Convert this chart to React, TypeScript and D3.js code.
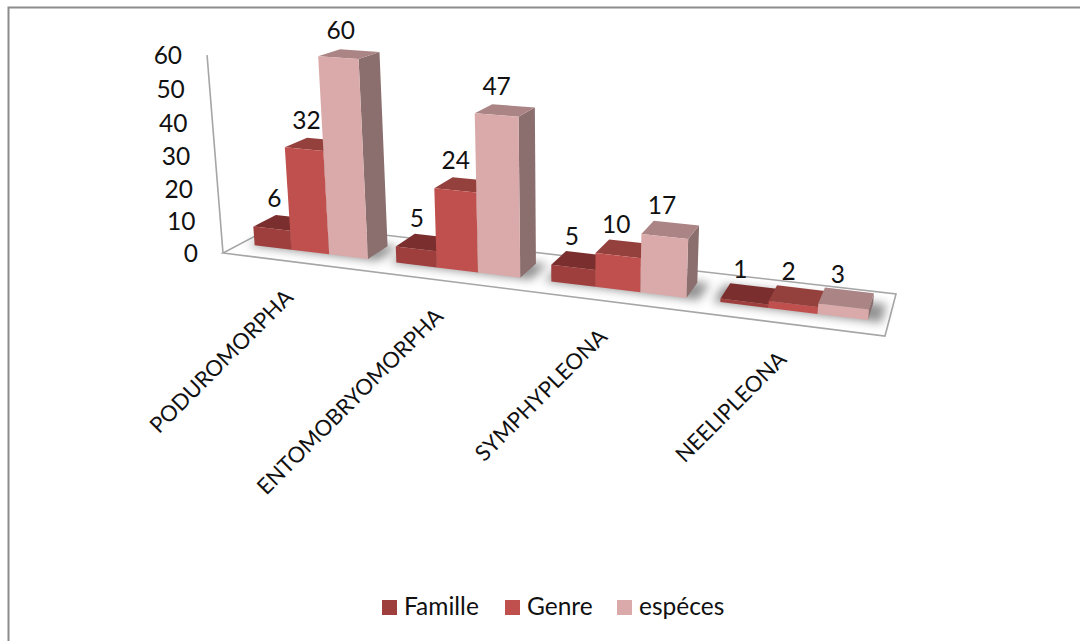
import React from "react";
import * as d3 from "d3";

const categories = ["PODUROMORPHA", "ENTOMOBRYOMORPHA", "SYMPHYPLEONA", "NEELIPLEONA"];
const seriesNames = ["Famille", "Genre", "espéces"];
const famille = [6, 5, 5, 1];
const genre = [32, 24, 10, 2];
const especes = [60, 47, 17, 3];
const yTicks = [0, 10, 20, 30, 40, 50, 60];

const frontColors = ["#9F3F3D", "#C0504D", "#D9AAA9"];
const topColors = ["#7A2E2D", "#94403D", "#AB8585"];
const sideColors = ["#6E2A29", "#853735", "#8B6E6E"];
const legendX = [382, 505, 617];

const FONT = "Lato, 'Open Sans', sans-serif";
const TEXT_SIZE = 24.5;
const CATEGORY_SIZE = 22;

type Pt = [number, number];

// Homography from the unit square to the floor quad, extended with an up column.
function makeProjection(p00: Pt, p10: Pt, p11: Pt, p01: Pt, vanish: Pt, s: number) {
  const [x0, y0] = p00, [x1, y1] = p10, [x2, y2] = p11, [x3, y3] = p01;
  const dx1 = x1 - x2, dx2 = x3 - x2, sx = x0 - x1 + x2 - x3;
  const dy1 = y1 - y2, dy2 = y3 - y2, sy = y0 - y1 + y2 - y3;
  const det = dx1 * dy2 - dx2 * dy1;
  const g = (sx * dy2 - dx2 * sy) / det;
  const h = (dx1 * sy - sx * dy1) / det;
  const a = x1 - x0 + g * x1, b = x3 - x0 + h * x3;
  const d = y1 - y0 + g * y1, e = y3 - y0 + h * y3;
  return (u: number, v: number, z: number): Pt => {
    const w = g * u + h * v + 1 + z * s;
    return [
      (a * u + b * v + x0 + z * s * vanish[0]) / w,
      (d * u + e * v + y0 + z * s * vanish[1]) / w,
    ];
  };
}

const project = makeProjection([223, 253], [885, 336], [896, 294], [280, 223], [565, 4500], -0.000742);

const catScale = d3.scaleBand<string>().domain(categories).range([0.007, 0.992]).paddingInner(0.1935).paddingOuter(0.075);
const barScale = d3.scaleBand<string>().domain(seriesNames).range([0, catScale.bandwidth()]);
// Slight foreshortening along the width of the floor.
const along = d3.scalePow().exponent(1.01).domain([0, 1]).range([0, 1]);
const depth = d3.scaleLinear().domain([0, 1]).range([0.3, 0.7]);
const heightScale = d3.scaleLinear().domain([0, 60]).range([0, 60]);
const pathOf = d3.line<Pt>().curve(d3.curveLinearClosed);

const seriesValues = [famille, genre, especes];

export default function App() {
  const floor = [project(0, 0, 0), project(1, 0, 0), project(1, 1, 0), project(0, 1, 0)];
  const axisTop = project(0, 0, 60);
  return (
    <svg width={1080} height={641} style={{ position: "absolute", left: 0, top: 0, background: "#fff" }} fontFamily={FONT}>
      <defs>
        <filter id="shadow" x="-30%" y="-60%" width="160%" height="220%">
          <feGaussianBlur stdDeviation="5" />
        </filter>
      </defs>
      <path d="M8.5 641V7.5H1080" fill="none" stroke="#8C8C8C" strokeWidth={2} />

      <path d={pathOf(floor) ?? ""} fill="#fff" stroke="#A6A6A6" strokeWidth={1.6} />
      <line x1={floor[0][0]} y1={floor[0][1]} x2={axisTop[0]} y2={axisTop[1]} stroke="#A6A6A6" strokeWidth={1.6} />

      {yTicks.map((t) => {
        const [x, y] = project(0, 0, t);
        return (
          <text key={t} x={x - 25} y={y + 9} textAnchor="end" fontSize={TEXT_SIZE} fill="#111">
            {t}
          </text>
        );
      })}

      {categories.map((c) => {
        const x0 = along(catScale(c)!);
        const x1 = along(catScale(c)! + catScale.bandwidth());
        const shadow = [project(x0 - 0.01, depth(0) - 0.02, 0), project(x1 + 0.018, depth(0) - 0.02, 0), project(x1 + 0.018, depth(1) + 0.02, 0), project(x0 - 0.01, depth(1) + 0.02, 0)];
        return <path key={c} d={pathOf(shadow) ?? ""} fill="#6f6f6f" opacity={0.75} filter="url(#shadow)" />;
      })}

      {categories.map((c, ci) =>
        seriesNames.map((s, si) => {
          const start = catScale(c)! + barScale(s)!;
          const u0 = along(start);
          const u1 = along(start + barScale.bandwidth());
          const v0 = depth(0), v1 = depth(1);
          const z = heightScale(seriesValues[si][ci]);
          const front = [project(u0, v0, 0), project(u1, v0, 0), project(u1, v0, z), project(u0, v0, z)];
          const top = [project(u0, v0, z), project(u1, v0, z), project(u1, v1, z), project(u0, v1, z)];
          const side = [project(u1, v0, 0), project(u1, v1, 0), project(u1, v1, z), project(u1, v0, z)];
          return (
            <g key={s}>
              <path d={pathOf(side) ?? ""} fill={sideColors[si]} />
              <path d={pathOf(top) ?? ""} fill={topColors[si]} />
              <path d={pathOf(front) ?? ""} fill={frontColors[si]} />
            </g>
          );
        })
      )}

      {categories.map((c, ci) =>
        seriesNames.map((s, si) => {
          const value = seriesValues[si][ci];
          const u = along(catScale(c)! + barScale(s)! + barScale.bandwidth() / 2);
          const [x, y] = project(u, depth(0.5), heightScale(value));
          return (
            <text key={s} x={x - 8.5} y={y - 15.5} textAnchor="middle" fontSize={TEXT_SIZE} fill="#111">
              {value}
            </text>
          );
        })
      )}

      {categories.map((c) => {
        const u = along(catScale(c)! + catScale.bandwidth() / 2);
        const [x, y] = project(u, 0, 0);
        return (
          <text key={c} transform={`translate(${x + 1},${y + 37}) rotate(-45)`} textAnchor="end" fontSize={CATEGORY_SIZE} fill="#111">
            {c}
          </text>
        );
      })}

      {seriesNames.map((s, i) => (
        <g key={s}>
          <rect x={legendX[i]} y={600} width={15} height={15} fill={frontColors[i]} />
          <text x={legendX[i] + 22} y={615} fontSize={TEXT_SIZE} fill="#111">
            {s}
          </text>
        </g>
      ))}
    </svg>
  );
}
